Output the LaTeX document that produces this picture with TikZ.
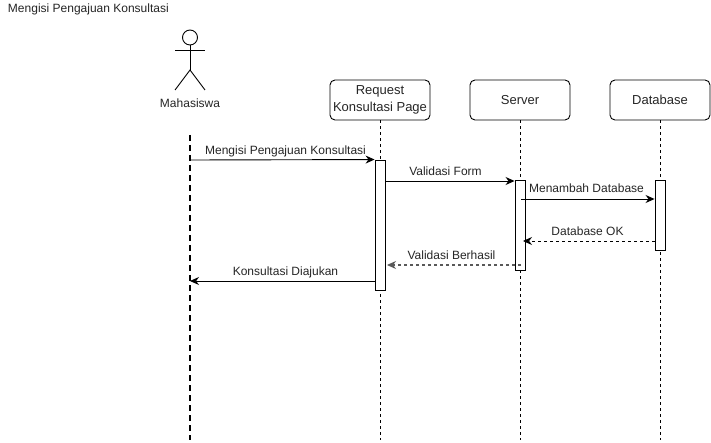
\documentclass[tikz,border=0pt]{standalone}
\usepackage{fontspec}
\setmainfont{Liberation Sans}
\usetikzlibrary{arrows.meta}
\tikzset{
  txtlabel/.style={text=black!85,inner sep=0pt,outer sep=0pt,font=\fontsize{12}{14}\selectfont},
  partbox/.style={draw=black,fill=white,rounded corners=5pt,minimum width=100pt,minimum height=40pt,inner sep=0pt,align=center,line width=0.9pt,text=black!85,font=\fontsize{13}{17}\selectfont},
  actbar/.style={draw=black,fill=white,minimum width=10pt,inner sep=0pt,line width=0.9pt},
  lifeline/.style={draw=black,line width=0.8pt,dash pattern=on 3pt off 3pt},
  msgsolid/.style={draw=black,line width=0.9pt,-{Stealth[length=9pt,width=8pt]}},
  msgdash/.style={draw=black,line width=0.9pt,dash pattern=on 3pt off 3pt,-{Stealth[length=9pt,width=8pt]}},
}
\begin{document}
\begin{tikzpicture}[x=1pt,y=-1pt]
\path[use as bounding box,fill=white] (0,0) rectangle (711,443);

\node[txtlabel,anchor=base west] (title) at (8,13) {Mengisi Pengajuan Konsultasi};

% actor
\node[draw=black,circle,minimum size=15pt,inner sep=0pt,line width=0.9pt] (head) at (190,37.5) {};
\coordinate (neck) at (190,50);
\coordinate (hip) at (190,70);
\draw[line width=0.9pt] (head.south) -- (hip);
\draw[line width=0.9pt] (175,50) -- (205,50);
\draw[line width=0.9pt] (175,90) -- (hip) -- (205,90);
\node[txtlabel,anchor=base] (actor) at (190,108) {Mahasiswa};

% lifelines
\node[partbox] (request) at (380,100) {Request\\Konsultasi Page};
\node[partbox] (server) at (520,100) {Server};
\node[partbox] (database) at (660,100) {Database};
\coordinate (actorTop) at (190,135);
\coordinate (actorEnd) at (190,440);
\coordinate (requestEnd) at (380,440);
\coordinate (serverEnd) at (520,440);
\coordinate (databaseEnd) at (660,440);
\draw[black,line width=2pt,dash pattern=on 6pt off 4pt] (actorTop) -- (actorEnd);
\draw[lifeline] (request) -- (requestEnd);
\draw[lifeline] (server) -- (serverEnd);
\draw[lifeline] (database) -- (databaseEnd);

% activation bars
\node[actbar,minimum height=130pt] (requestBar) at (380,225) {};
\node[actbar,minimum height=90pt] (serverBar) at (520,225) {};
\node[actbar,minimum height=70pt] (databaseBar) at (660,215) {};

% messages
\coordinate (m1) at (190,160);
\coordinate (m3) at (521,199);
\coordinate (m4) at (523,241);
\coordinate (m5) at (387,265);
\coordinate (m5s) at (521,265);
\coordinate (m6) at (190,281);
\draw[msgsolid] (m1) -- (requestBar.north west);
\draw[msgsolid] (requestBar.east |- 0,181) -- (serverBar.west |- 0,181);
\draw[msgsolid] (m3) -- (databaseBar.west |- m3);
\draw[msgdash] (databaseBar.west |- m4) -- (m4);
\draw[msgdash,draw=black!65,line width=1.1pt] (m5s) -- (m5);
\draw[msgsolid] (requestBar.west |- m6) -- (m6);

\node[txtlabel,anchor=base] (l1) at (285.5,155) {Mengisi Pengajuan Konsultasi};
\node[txtlabel,anchor=base] (l2) at (445.5,176) {Validasi Form};
\node[txtlabel,anchor=base] (l3) at (586.5,193) {Menambah Database};
\node[txtlabel,anchor=base] (l4) at (587.5,236) {Database OK};
\node[txtlabel,anchor=base] (l5) at (451.5,260) {Validasi Berhasil};
\node[txtlabel,anchor=base] (l6) at (285.5,276) {Konsultasi Diajukan};
\end{tikzpicture}
\end{document}
